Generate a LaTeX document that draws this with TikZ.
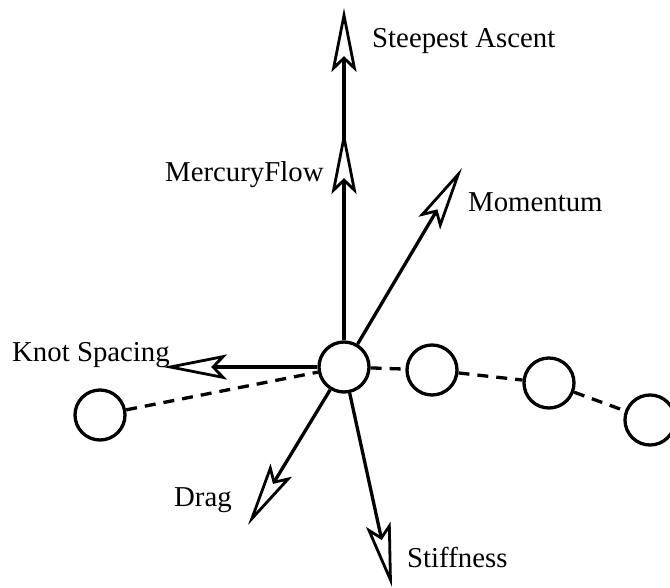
\documentclass[tikz,border=0pt]{standalone}
\usepackage{fontspec}
\setmainfont{Liberation Serif}
\usetikzlibrary{arrows.meta}

\begin{document}
\begin{tikzpicture}[line join=miter,x=1pt,y=-1pt,
    knot/.style={draw,fill=white,circle,line width=3.3pt,minimum size=50pt,inner sep=0pt},
    force/.style={line width=3.3pt,-{Stealth[length=64pt,width=25pt,inset=12pt,fill=white,line width=2.8pt]}},
    spline/.style={line width=3.3pt,dash pattern=on 11pt off 8pt},
    lbl/.style={inner sep=0pt,anchor=base west,font=\fontsize{28.8}{34}\selectfont}]
    \useasboundingbox (0,0) rectangle (670,588);
    \node[knot] (k0) at (100,415) {};
    \node[knot] (k1) at (344,367) {};
    \node[knot] (k2) at (432,370) {};
    \node[knot] (k3) at (549,383) {};
    \node[knot] (k4) at (650,420) {};
    \coordinate (ascent) at (344,8);
    \coordinate (mercury) at (344,130);
    \coordinate (momentum) at (462,168);
    \coordinate (spacing) at (163,367);
    \coordinate (drag) at (248,525);
    \coordinate (stiff) at (392,587);
    \foreach \a/\b in {k0/k1,k1/k2,k2/k3,k3/k4}
        \draw[spline] (\a) -- (\b);
    \foreach \t in {ascent,mercury,momentum,spacing,drag,stiff}
        \draw[force] (k1) -- (\t);
    \node[lbl] (ascentlbl) at (372,48) {Steepest Ascent};
    \node[lbl] (mercurylbl) at (165,182) {MercuryFlow};
    \node[lbl] (momentumlbl) at (468,212) {Momentum};
    \node[lbl] (spacinglbl) at (12,361) {Knot Spacing};
    \node[lbl] (draglbl) at (174,506) {Drag};
    \node[lbl] (stifflbl) at (407,567) {Stiffness};
\end{tikzpicture}
\end{document}
